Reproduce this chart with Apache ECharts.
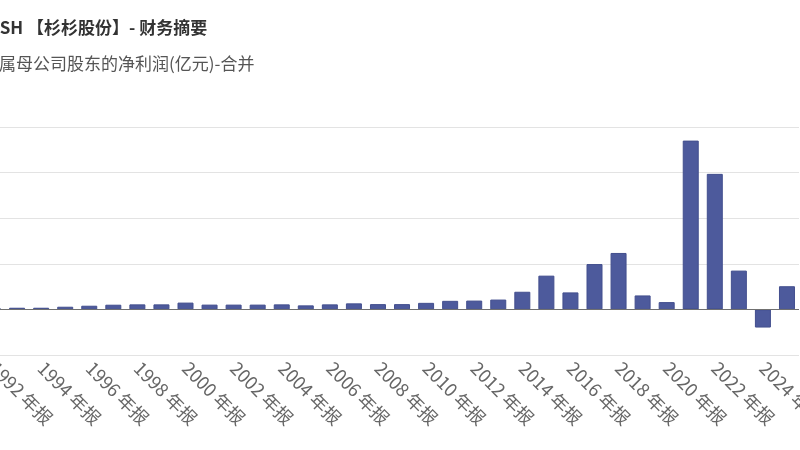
<!DOCTYPE html>
<html>
<head>
<meta charset="utf-8">
<script src="https://cdn.jsdelivr.net/npm/echarts@6/dist/echarts.min.js"></script>
<style>
  html, body { margin: 0; padding: 0; background: #fff; }
  #chart { width: 800px; height: 450px; }
</style>
</head>
<body>
<div id="chart"></div>
<script>
// report periods and net profit attributable to parent (亿元)
var years = ['1992 年报', '1993 年报', '1994 年报', '1995 年报', '1996 年报', '1997 年报',
  '1998 年报', '1999 年报', '2000 年报', '2001 年报', '2002 年报', '2003 年报',
  '2004 年报', '2005 年报', '2006 年报', '2007 年报', '2008 年报', '2009 年报',
  '2010 年报', '2011 年报', '2012 年报', '2013 年报', '2014 年报', '2015 年报',
  '2016 年报', '2017 年报', '2018 年报', '2019 年报', '2020 年报', '2021 年报',
  '2022 年报', '2023 年报', '2024 年报', '2025 中报'];
var netProfit = [0.15, 0.33, 0.33, 0.53, 0.73, 0.93,
  1.0, 1.0, 1.35, 0.95, 0.95, 0.95,
  1.0, 0.8, 1.0, 1.2, 1.05, 1.05,
  1.3, 1.7, 1.75, 1.95, 3.5, 6.7,
  3.37, 9.0, 11.2, 2.77, 1.45, 33.5,
  26.9, 7.7, -3.6, 4.6];

var yMin = -9.05, yMax = 36.2, yStep = 9.05;

var chartDom = document.getElementById('chart');
var myChart = echarts.init(chartDom);

var option = {
  animation: false,
  textStyle: { fontFamily: 'Noto Sans CJK SC' },
  title: [
    {
      text: '600884.SH 【杉杉股份】- 财务摘要',
      left: -66,
      top: 19,
      padding: 0,
      textStyle: { fontSize: 17, fontWeight: 'bold', color: '#333', fontFamily: 'Noto Sans CJK SC' }
    },
    {
      text: '归属母公司股东的净利润(亿元)-合并',
      left: -18,
      top: 55,
      padding: 0,
      textStyle: { fontSize: 17, fontWeight: 'normal', color: '#555', fontFamily: 'Noto Sans CJK SC' }
    }
  ],
  grid: {
    left: -19,
    right: 1,
    top: 127,
    bottom: 95,
    containLabel: false,
    outerBoundsMode: 'none'
  },
  xAxis: {
    type: 'category',
    data: years,
    axisLine: { show: false, onZero: false },
    axisTick: { show: false },
    axisLabel: {
      interval: 1,
      rotate: -45,
      margin: 10,
      fontSize: 18,
      color: '#666'
    }
  },
  yAxis: {
    type: 'value',
    min: yMin,
    max: yMax,
    interval: yStep,
    axisLabel: { show: false },
    axisLine: { show: false },
    axisTick: { show: false },
    splitLine: { lineStyle: { color: '#e3e3e3' } }
  },
  series: [
    {
      name: '归母净利润',
      type: 'bar',
      data: netProfit,
      barWidth: 16,
      itemStyle: {
        color: '#4d5a9c',
        borderColor: '#434f8e',
        borderWidth: 1
      },
      markLine: {
        silent: true,
        symbol: 'none',
        label: { show: false },
        lineStyle: { color: '#707070', type: 'solid', width: 1 },
        data: [{ yAxis: 0 }]
      }
    }
  ]
};

myChart.setOption(option);
</script>
</body>
</html>
